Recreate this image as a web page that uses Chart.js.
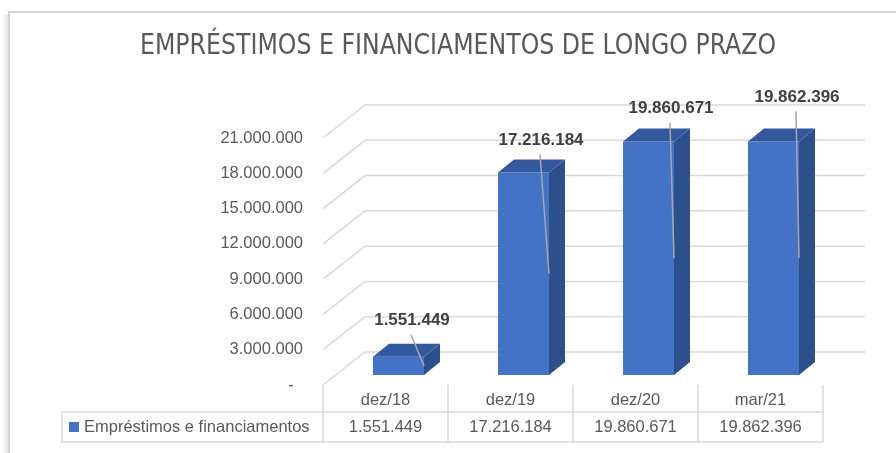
<!DOCTYPE html>
<html>
<head>
<meta charset="utf-8">
<script src="https://cdn.jsdelivr.net/npm/chart.js@4/dist/chart.umd.min.js"></script>
<style>
  body { margin: 0; background: #fff; }
  #wrap { width: 896px; height: 453px; }
</style>
</head>
<body>
<div id="wrap"><canvas id="grafico" width="896" height="453"></canvas></div>
<script>
const titulo = 'EMPRÉSTIMOS E FINANCIAMENTOS DE LONGO PRAZO';
const serie = 'Empréstimos e financiamentos';
const categorias = ['dez/18', 'dez/19', 'dez/20', 'mar/21'];
const valores = [1551449, 17216184, 19860671, 19862396];
const yMin = 0;
const yMax = 21000000;
const yPasso = 3000000;

const fmt = (v) => v === 0 ? '-  ' : String(v).replace(/\B(?=(\d{3})+(?!\d))/g, '.');

// posicao dos rotulos em relacao ao topo da barra (como no Excel)
const rotDx = [13.5, 17.5, 22.5, 23.5];
const rotDy = [-36, -32, -33, -44];

const fonte = '"Liberation Sans", Arial, sans-serif';
const cinza = '#595959';
const linha = '#d9d9d9';
const prof = { dx: 42, dy: -33, frenteX: 13, frenteY: 10 };
const barra = { dx: 16, dy: -13 };

const excel3d = {
  id: 'excel3d',
  beforeDraw(chart) {
    const { ctx, width, height } = chart;
    ctx.save();
    ctx.fillStyle = '#fff';
    ctx.fillRect(0, 0, width, height);
    // moldura com sombra
    const g = ctx.createLinearGradient(2, 0, 9, 0);
    g.addColorStop(0, 'rgba(0,0,0,0)');
    g.addColorStop(1, 'rgba(0,0,0,0.12)');
    ctx.fillStyle = g;
    ctx.fillRect(2, 14, 7, height - 14);
    ctx.strokeStyle = '#d4d4d4';
    ctx.lineWidth = 2;
    ctx.beginPath();
    ctx.moveTo(9, height);
    ctx.lineTo(9, 12);
    ctx.lineTo(width, 12);
    ctx.stroke();

    // titulo (largura ajustada ao original)
    ctx.font = '28px "DejaVu Sans Condensed", "Liberation Sans", sans-serif';
    const w = ctx.measureText(titulo).width;
    ctx.translate(458, 47);
    ctx.scale(636 / w, 1);
    ctx.fillStyle = cinza;
    ctx.textAlign = 'center';
    ctx.textBaseline = 'middle';
    ctx.fillText(titulo, 0, 0);
    ctx.setTransform(1, 0, 0, 1, 0, 0);

    // grade do piso / parede
    const y = chart.scales.y;
    const area = chart.chartArea;
    const x0 = area.left - prof.frenteX;
    const xFim = area.right - prof.frenteX + prof.dx;
    ctx.strokeStyle = linha;
    ctx.lineWidth = 1.5;
    y.ticks.forEach((t) => {
      const yf = y.getPixelForValue(t.value) + prof.frenteY;
      ctx.beginPath();
      ctx.moveTo(x0, yf);
      ctx.lineTo(x0 + prof.dx, yf + prof.dy);
      ctx.lineTo(xFim, yf + prof.dy);
      ctx.stroke();
    });
    ctx.restore();
  },
  afterDatasetsDraw(chart) {
    const { ctx } = chart;
    const meta = chart.getDatasetMeta(0);
    ctx.save();
    meta.data.forEach((el) => {
      const p = el.getProps(['x', 'y', 'base', 'width'], true);
      const xl = p.x - p.width / 2;
      const xr = p.x + p.width / 2;
      ctx.fillStyle = '#2d4f8b';
      ctx.beginPath();
      ctx.moveTo(xr, p.y);
      ctx.lineTo(xr + barra.dx, p.y + barra.dy);
      ctx.lineTo(xr + barra.dx, p.base + barra.dy);
      ctx.lineTo(xr, p.base);
      ctx.closePath();
      ctx.fill();
      ctx.fillStyle = '#3358a0';
      ctx.beginPath();
      ctx.moveTo(xl, p.y);
      ctx.lineTo(xr, p.y);
      ctx.lineTo(xr + barra.dx, p.y + barra.dy);
      ctx.lineTo(xl + barra.dx, p.y + barra.dy);
      ctx.closePath();
      ctx.fill();
    });
    // rotulos com linhas de chamada
    meta.data.forEach((el, i) => {
      const p = el.getProps(['x', 'y', 'base', 'width'], true);
      const lx = p.x + rotDx[i];
      const ly = p.y + rotDy[i];
      ctx.strokeStyle = '#a6a6a6';
      ctx.lineWidth = 1.5;
      ctx.beginPath();
      ctx.moveTo(lx - 1, ly + 14);
      ctx.lineTo(p.x + p.width / 2, (p.y + p.base) / 2);
      ctx.stroke();
      ctx.fillStyle = '#404040';
      ctx.font = 'bold 17px ' + fonte;
      ctx.textAlign = 'center';
      ctx.textBaseline = 'middle';
      ctx.fillText(fmt(valores[i]), lx, ly);
    });
    ctx.restore();
  },
  afterDraw(chart) {
    const { ctx } = chart;
    const x = chart.scales.x;
    const area = chart.chartArea;
    const larg = x.getPixelForValue(1) - x.getPixelForValue(0);
    const ini = x.getPixelForValue(0) - larg / 2 - prof.frenteX;
    const fim = ini + larg * categorias.length;
    const topo = area.bottom + prof.frenteY;
    const meio = 412;
    const base = 442;
    const esq = 62;
    ctx.save();
    ctx.strokeStyle = linha;
    ctx.lineWidth = 1.5;
    ctx.beginPath();
    for (let i = 0; i <= categorias.length; i++) {
      ctx.moveTo(ini + larg * i, topo);
      ctx.lineTo(ini + larg * i, base);
    }
    ctx.moveTo(esq, meio);
    ctx.lineTo(fim, meio);
    ctx.moveTo(esq, meio);
    ctx.lineTo(esq, base);
    ctx.lineTo(fim, base);
    ctx.stroke();

    ctx.fillStyle = cinza;
    ctx.font = '16.5px ' + fonte;
    ctx.textAlign = 'center';
    ctx.textBaseline = 'middle';
    categorias.forEach((c, i) => {
      const cx = ini + larg * (i + 0.5);
      ctx.fillText(c, cx, (topo + meio) / 2 + 2);
      ctx.fillText(fmt(valores[i]), cx, (meio + base) / 2);
    });
    ctx.fillStyle = '#4472c4';
    ctx.fillRect(69, 422, 10, 10);
    ctx.fillStyle = cinza;
    ctx.textAlign = 'left';
    ctx.fillText(serie, 84, (meio + base) / 2);
    ctx.restore();
  }
};

const chart = new Chart(document.getElementById('grafico'), {
  type: 'bar',
  data: {
    labels: categorias,
    datasets: [
      {
        label: serie,
        data: valores,
        backgroundColor: '#4472c4',
        borderWidth: 0,
        categoryPercentage: 1,
        barPercentage: 0.408,
      },
    ],
  },
  options: {
    responsive: false,
    animation: false,
    layout: { padding: { left: 0, right: 60, top: 128, bottom: 78 } },
    plugins: {
      legend: { display: false },
      tooltip: { enabled: false },
      title: { display: false },
    },
    scales: {
      x: { display: false },
      y: {
        min: yMin,
        max: yMax,
        grid: { display: false, drawTicks: false },
        border: { display: false },
        afterFit: (s) => { s.width = 336; },
        ticks: {
          stepSize: yPasso,
          padding: 33,
          labelOffset: prof.frenteY,
          color: cinza,
          font: { family: fonte, size: 16.5 },
          callback: (v) => fmt(v),
        },
      },
    },
  },
  plugins: [excel3d],
});
</script>
</body>
</html>
